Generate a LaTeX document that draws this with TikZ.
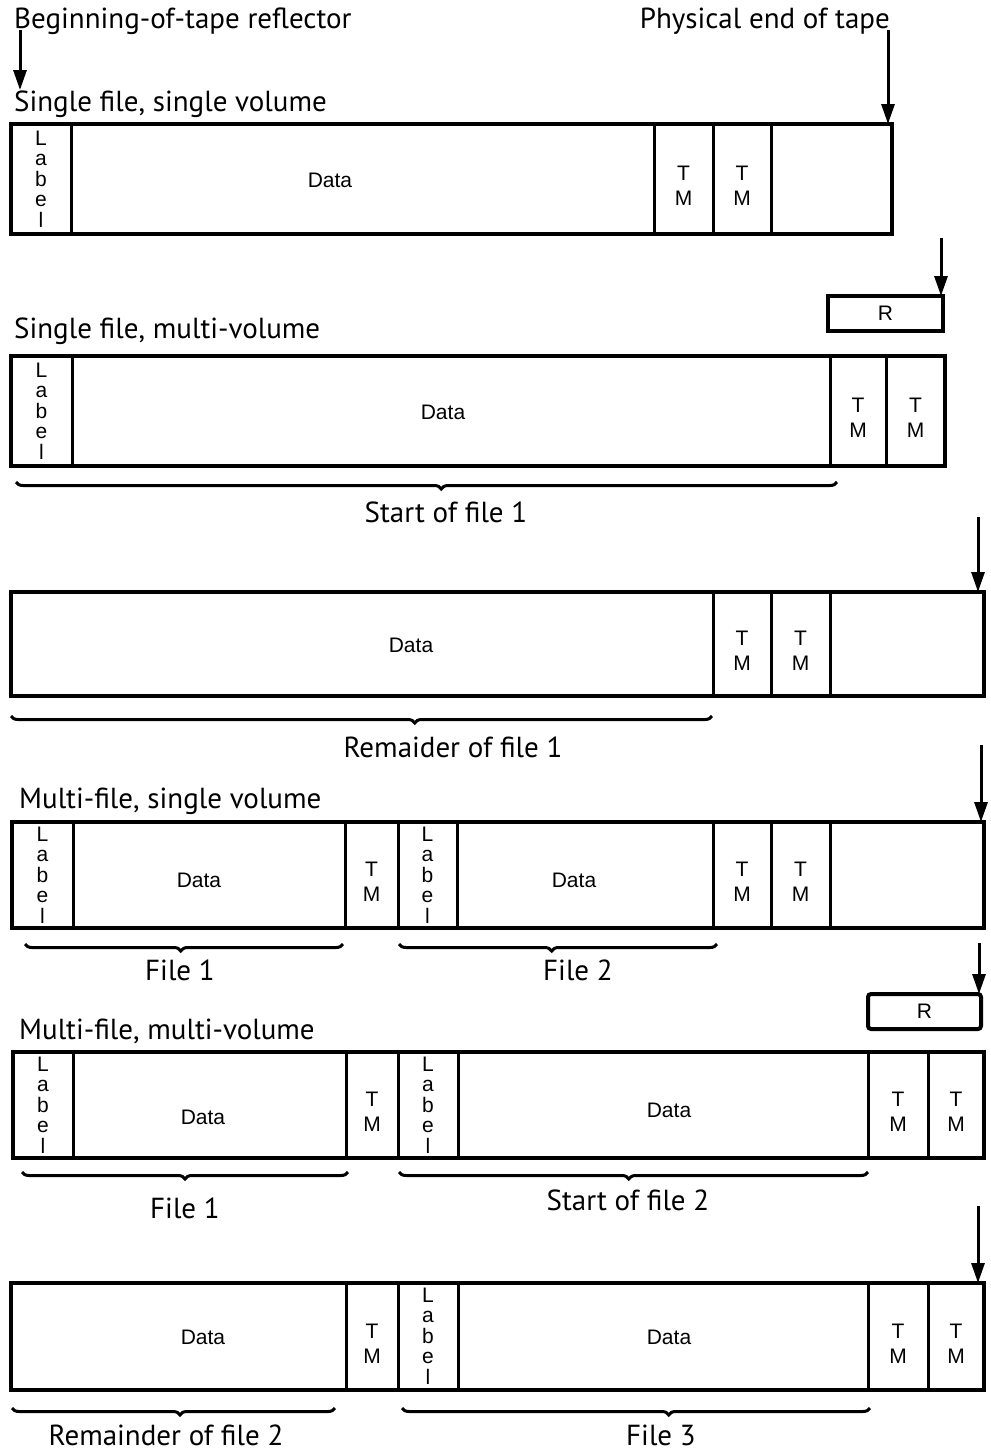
\documentclass[tikz,border=0pt]{standalone}
\usepackage{fontspec}
\setmainfont{Liberation Sans}
\newfontfamily\headfont{PT Sans}
\usetikzlibrary{arrows.meta,decorations.pathreplacing}
\tikzset{
  cellst/.style={draw, line width=3pt, inner sep=0pt, outer sep=0pt,
    font=\fontsize{21}{25}\selectfont, align=center},
  lblst/.style={font=\fontsize{21}{20}\selectfont},
  outerst/.style={draw, line width=4pt},
  dtext/.style={font=\fontsize{21}{25}\selectfont, inner sep=0pt},
  arr/.style={line width=3pt, -{Triangle[width=13pt,length=20pt]}},
  head/.style={font=\headfont\fontsize{29}{34}\selectfont, anchor=base west, inner sep=0pt},
  captionst/.style={font=\headfont\fontsize{29}{34}\selectfont, anchor=base, inner sep=0pt},
  brc/.style={decorate, decoration={brace, mirror, amplitude=7pt, aspect=#1}, line width=3pt},
  brc/.default=0.5
}
\newcommand\tcell[7][]{\node[cellst,#1,minimum width={(#4-#3)*1pt},minimum height={(#6-#5)*1pt}] (#2) at ({(#3+#4)/2},{(#5+#6)/2}) {#7};}
\newcommand\tmtxt{\raisebox{-9pt}[\height][\depth]{\begin{tabular}{@{}c@{}}T\\M\end{tabular}}}
\newcommand\lbltxt{\raisebox{-3pt}[\height][\depth]{\begin{tabular}{@{}c@{}}L\\a\\b\\e\\l\end{tabular}}}
\begin{document}
\begin{tikzpicture}[x=1pt,y=-1pt]
\useasboundingbox (0,0) rectangle (991,1452);
% ---------- top labels ----------
\node[head] (bot) at (14,28) {Beginning-of-tape reflector};
\node[head, anchor=base east] (pet) at (890,28) {Physical end of tape};
\coordinate (a1s) at (20,30);
\coordinate (a1e) at (20,90);
\draw[arr] (a1s) -- (a1e);
% ---------- row 1 ----------
\node[head] (h1) at (14,111) {Single file, single volume};
\tcell[lblst]{r1l}{11}{71}{124}{234}{\lbltxt}
\tcell{r1d}{71}{654}{124}{234}{}
\tcell{r1t1}{654}{713}{124}{234}{\tmtxt}
\tcell{r1t2}{713}{771}{124}{234}{\tmtxt}
\tcell{r1e}{771}{892}{124}{234}{}
\draw[outerst] (r1l.north west) rectangle (r1e.south east);
\node[dtext] (r1dt) at (330,180) {Data};
\coordinate (a2s) at (888,30);
\draw[arr] (a2s) -- ([xshift=-4pt]r1e.north east);
% ---------- row 2 ----------
\tcell{r2r}{828}{943}{296}{331}{R}
\draw[outerst] (r2r.north west) rectangle (r2r.south east);
\coordinate (a3s) at (941,238);
\draw[arr] (a3s) -- ([xshift=-2pt]r2r.north east);
\node[head] (h2) at (14,338) {Single file, multi-volume};
\tcell[lblst]{r2l}{11}{72}{356}{466}{\lbltxt}
\tcell{r2d}{72}{830}{356}{466}{}
\tcell{r2t1}{830}{886}{356}{466}{\tmtxt}
\tcell{r2t2}{886}{945}{356}{466}{\tmtxt}
\draw[outerst] (r2l.north west) rectangle (r2t2.south east);
\node[dtext] (r2dt) at (443,412) {Data};
\draw[brc=0.518] (16,482) -- (837,482);
\node[captionst] (c2) at (446,522) {Start of file 1};
% ---------- row 3 ----------
\coordinate (a4s) at (978,517);
\tcell{r3d}{11}{713}{592}{696}{}
\tcell{r3t1}{713}{771}{592}{696}{\tmtxt}
\tcell{r3t2}{771}{830}{592}{696}{\tmtxt}
\tcell{r3e}{830}{984}{592}{696}{}
\draw[outerst] (r3d.north west) rectangle (r3e.south east);
\node[dtext] (r3dt) at (411,645) {Data};
\draw[arr] (a4s) -- ([xshift=-6pt]r3e.north east);
\draw[brc=0.576] (11,716) -- (712,716);
\node[captionst] (c3) at (453,757) {Remaider of file 1};
% ---------- row 4 ----------
\node[head] (h4) at (19,808) {Multi-file, single volume};
\tcell[lblst]{r4l1}{12}{73}{822}{928}{\lbltxt}
\tcell{r4d1}{73}{345}{822}{928}{}
\tcell{r4t1}{345}{398}{822}{928}{\tmtxt}
\tcell[lblst]{r4l2}{398}{457}{822}{928}{\lbltxt}
\tcell{r4d2}{457}{713}{822}{928}{}
\tcell{r4t2}{713}{771}{822}{928}{\tmtxt}
\tcell{r4t3}{771}{830}{822}{928}{\tmtxt}
\tcell{r4e}{830}{984}{822}{928}{}
\draw[outerst] (r4l1.north west) rectangle (r4e.south east);
\node[dtext] (r4dt1) at (199,880) {Data};
\node[dtext] (r4dt2) at (574,880) {Data};
\coordinate (a5s) at (981,745);
\draw[arr] (a5s) -- ([xshift=-3pt]r4e.north east);
\draw[brc=0.49] (25,944) -- (343,944);
\draw[brc=0.48] (399,944) -- (717,944);
\node[captionst] (c4a) at (180,980) {File 1};
\node[captionst] (c4b) at (578,980) {File 2};
% ---------- row 5 ----------
\tcell[rounded corners=3pt]{r5r}{868}{981}{994}{1029}{R}
\draw[outerst, rounded corners=3pt] (r5r.north west) rectangle (r5r.south east);
\coordinate (a6s) at (979,943);
\draw[arr] (a6s) -- ([xshift=-2pt]r5r.north east);
\node[head] (h5) at (19,1039) {Multi-file, multi-volume};
\tcell[lblst]{r5l1}{13}{73}{1052}{1158}{\lbltxt}
\tcell{r5d1}{73}{346}{1052}{1158}{}
\tcell{r5t1}{346}{398}{1052}{1158}{\tmtxt}
\tcell[lblst]{r5l2}{398}{458}{1052}{1158}{\lbltxt}
\tcell{r5d2}{458}{868}{1052}{1158}{}
\tcell{r5t2}{868}{928}{1052}{1158}{\tmtxt}
\tcell{r5t3}{928}{984}{1052}{1158}{\tmtxt}
\draw[outerst] (r5l1.north west) rectangle (r5t3.south east);
\node[dtext] (r5dt1) at (203,1117) {Data};
\node[dtext] (r5dt2) at (669,1110) {Data};
\draw[brc=0.5] (22,1172) -- (348,1172);
\draw[brc=0.49] (399,1172) -- (868,1172);
\node[captionst] (c5a) at (185,1218) {File 1};
\node[captionst] (c5b) at (628,1210) {Start of file 2};
% ---------- row 6 ----------
\coordinate (a7s) at (978,1206);
\tcell{r6d1}{11}{346}{1283}{1390}{}
\tcell{r6t1}{346}{398}{1283}{1390}{\tmtxt}
\tcell[lblst]{r6l}{398}{458}{1283}{1390}{\lbltxt}
\tcell{r6d2}{458}{868}{1283}{1390}{}
\tcell{r6t2}{868}{928}{1283}{1390}{\tmtxt}
\tcell{r6t3}{928}{984}{1283}{1390}{\tmtxt}
\draw[outerst] (r6d1.north west) rectangle (r6t3.south east);
\node[dtext] (r6dt1) at (203,1337) {Data};
\node[dtext] (r6dt2) at (669,1337) {Data};
\draw[arr] (a7s) -- ([xshift=-6pt]r6t3.north east);
\draw[brc=0.52] (12,1408) -- (335,1408);
\draw[brc=0.57] (402,1408) -- (870,1408);
\node[captionst] (c6a) at (166,1445) {Remainder of file 2};
\node[captionst] (c6b) at (661,1445) {File 3};
\end{tikzpicture}
\end{document}
